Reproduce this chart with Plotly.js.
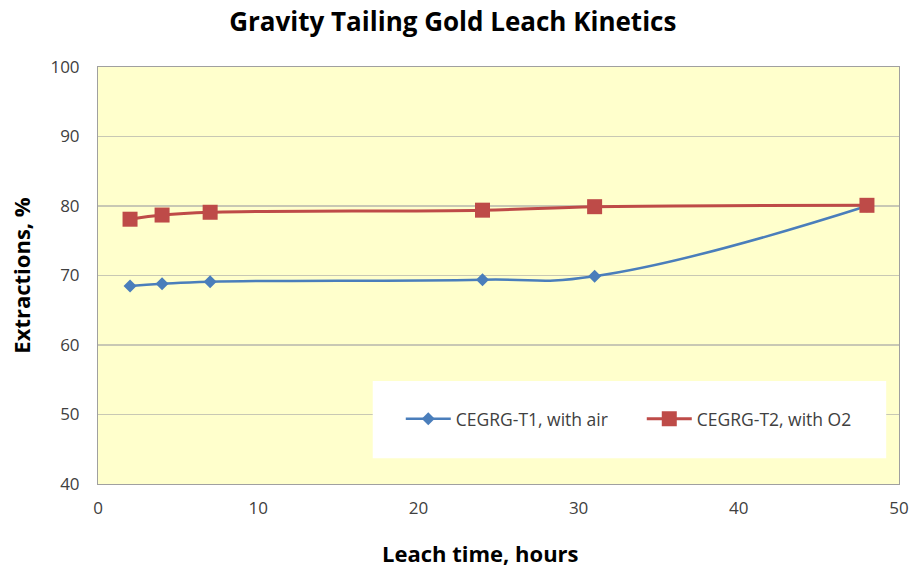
<!DOCTYPE html>
<html>
<head>
<meta charset="utf-8">
<script src="https://cdn.plot.ly/plotly-3.0.1.min.js"></script>
<style>html,body{margin:0;padding:0;background:#fff;}#chart{width:911px;height:572px;}</style>
</head>
<body>
<div id="chart"></div>
<script>
const hours = [2, 4, 7, 24, 31, 48];
const airExtraction = [68.5, 68.8, 69.1, 69.4, 69.9, 80.0];
const o2Extraction = [78.1, 78.7, 79.1, 79.4, 79.9, 80.1];
const seriesNames = ["CEGRG-T1, with air", "CEGRG-T2, with O2"];
const xTicks = [0, 10, 20, 30, 40, 50];
const yTicks = [40, 50, 60, 70, 80, 90, 100];

const fontFam = "'Open Sans', sans-serif";

const traces = [
  {
    x: hours, y: airExtraction, name: seriesNames[0],
    type: "scatter", mode: "lines+markers",
    line: {color: "#4a7ebb", width: 2.5, shape: "spline", smoothing: 1.3},
    marker: {symbol: "diamond", size: 10, color: "#4a7ebb"}
  },
  {
    x: hours, y: o2Extraction, name: seriesNames[1],
    type: "scatter", mode: "lines+markers",
    line: {color: "#be4b48", width: 3, shape: "spline", smoothing: 1},
    marker: {symbol: "square", size: 15, color: "#be4b48"}
  }
];

const layout = {
  width: 911, height: 572,
  margin: {l: 98, r: 12, t: 67, b: 88, autoexpand: false},
  paper_bgcolor: "#ffffff",
  plot_bgcolor: "#ffffcc",
  title: {text: "<b>Gravity Tailing Gold Leach Kinetics</b>", font: {family: fontFam, size: 26, color: "#000"}, x: 0.497, xanchor: "center", y: 0.962, yanchor: "middle"},
  xaxis: {
    range: [0, 50], tickvals: xTicks, showgrid: false, zeroline: false,
    showline: true, linecolor: "#a0a0a0", linewidth: 1, mirror: true,
    ticks: "", tickfont: {family: fontFam, size: 17, color: "#404040"},
    ticklabelstandoff: 9
  },
  yaxis: {
    range: [40, 100], tickvals: yTicks, showgrid: true, gridcolor: "#c8c8b4", gridwidth: 1.5, zeroline: false,
    showline: true, linecolor: "#a0a0a0", linewidth: 1, mirror: true,
    ticks: "", tickfont: {family: fontFam, size: 17, color: "#404040"},
    ticklabelstandoff: 14,
    title: {text: "<b>Extractions, %</b>", font: {family: fontFam, size: 22, color: "#000"}, standoff: 13}
  },
  annotations: [
    {text: "<b>Leach time, hours</b>", xref: "paper", yref: "paper", x: 0.477, y: -0.165,
     xanchor: "center", yanchor: "middle", showarrow: false,
     font: {family: fontFam, size: 22, color: "#000"}}
  ],
  shapes: [
    {type: "rect", xref: "paper", yref: "paper", x0: 0.343, x1: 0.984, y0: 0.062, y1: 0.247,
     fillcolor: "#ffffff", line: {width: 0}, layer: "above"}
  ],
  showlegend: true,
  legend: {
    orientation: "h", x: 0.378, xanchor: "left", y: 0.156, yanchor: "middle",
    bgcolor: "rgba(0,0,0,0)", borderwidth: 0,
    font: {family: fontFam, size: 17.5, color: "#404040"},
    itemwidth: 45,
    entrywidth: 181, entrywidthmode: "pixels"
  }
};

Plotly.newPlot("chart", traces, layout, {displayModeBar: false, staticPlot: true});
</script>
</body>
</html>
